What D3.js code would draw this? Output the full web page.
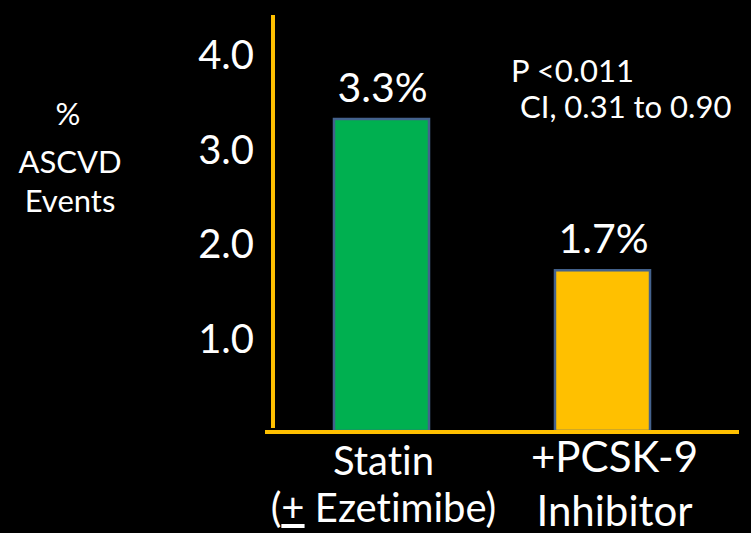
<!DOCTYPE html>
<html>
<head>
<meta charset="utf-8">
<script src="https://cdn.jsdelivr.net/npm/d3@7"></script>
<style>
  html, body { margin: 0; padding: 0; background: #000; }
  svg { display: block; }
  text { font-family: Lato, "Open Sans", sans-serif; fill: #fff; font-variant-ligatures: none; font-feature-settings: "liga" 0, "clig" 0; }
</style>
</head>
<body>
<svg id="chart" width="751" height="533"></svg>
<script>
// Share of patients with an ASCVD event, by treatment arm
const groups = ["Statin", "+PCSK-9"];
const eventRates = [3.3, 1.7];
const valueLabels = ["3.3%", "1.7%"];
const groupLabelLines = [["Statin", "(+ Ezetimibe)"], ["+PCSK-9", "Inhibitor"]];
const yTicks = [1.0, 2.0, 3.0, 4.0];
const yTitleLines = ["%", "ASCVD", "Events"];
const statLines = ["P <0.011", "CI, 0.31 to 0.90"];

const barColors = ["#00B050", "#FFC000"];
const axisColor = "#FFC000";

const svg = d3.select("#chart");
svg.append("rect").attr("width", 751).attr("height", 533).attr("fill", "#000");

const y = d3.scaleLinear().domain([0, 4.4]).range([431, 15]);
const x = d3.scaleBand().domain(groups).range([271, 713])
  .paddingInner(0.57).paddingOuter(0.285);

// Bars
svg.append("g").selectAll("rect")
  .data(groups)
  .join("rect")
  .attr("x", d => x(d))
  .attr("y", (d, i) => y(eventRates[i]))
  .attr("width", x.bandwidth())
  .attr("height", (d, i) => y(0) - y(eventRates[i]))
  .attr("fill", (d, i) => barColors[i])
  .attr("stroke", "#44628D")
  .attr("stroke-width", 2.5);

// Value labels above the bars
svg.append("g").selectAll("text")
  .data(groups)
  .join("text")
  .attr("x", d => x(d) + x.bandwidth() / 2 + 1)
  .attr("y", (d, i) => y(eventRates[i]) - 17)
  .attr("text-anchor", "middle")
  .style("font-size", "41px")
  .text((d, i) => valueLabels[i]);

// Y axis tick labels
const yAxis = d3.axisLeft(y).tickValues(yTicks).tickFormat(d3.format(".1f")).tickSize(0).tickPadding(0);
const gy = svg.append("g").attr("transform", "translate(254,0)").call(yAxis);
gy.select(".domain").remove();
gy.selectAll("text")
  .attr("fill", "#fff")
  .attr("dy", "0.4em")
  .style("font-family", "Lato, 'Open Sans', sans-serif")
  .style("font-size", "40px");

// Axis lines
svg.append("line")
  .attr("x1", 273).attr("x2", 273)
  .attr("y1", y(4.4)).attr("y2", y(0) - 3)
  .attr("stroke", axisColor).attr("stroke-width", 4);
svg.append("line")
  .attr("x1", 265).attr("x2", 739)
  .attr("y1", y(0) + 1).attr("y2", y(0) + 1)
  .attr("stroke", axisColor).attr("stroke-width", 4);

// Category labels
const labelLayout = [
  { dx: 2, size: 40, baselines: [475, 522] },
  { dx: 12, size: 42, baselines: [472, 526] }
];
groups.forEach((g, i) => {
  const cx = x(g) + x.bandwidth() / 2 + labelLayout[i].dx;
  groupLabelLines[i].forEach((line, j) => {
    const t = svg.append("text")
      .attr("x", cx)
      .attr("y", labelLayout[i].baselines[j])
      .attr("text-anchor", "middle")
      .style("font-size", labelLayout[i].size + "px");
    if (line.startsWith("(+")) {
      // "+" is underlined to read as plus-or-minus
      t.append("tspan").text("(");
      t.append("tspan").style("text-decoration", "underline").text("+");
      t.append("tspan").text(line.slice(2));
    } else {
      t.text(line);
    }
  });
});

// Y axis title
const titleLayout = [{ cx: 68, y: 125 }, { cx: 70, y: 173 }, { cx: 70, y: 212 }];
svg.append("g").selectAll("text")
  .data(yTitleLines)
  .join("text")
  .attr("x", (d, i) => titleLayout[i].cx)
  .attr("y", (d, i) => titleLayout[i].y)
  .attr("text-anchor", "middle")
  .style("font-size", "31px")
  .text(d => d);

// Statistics note
const statLayout = [{ x: 511, y: 82 }, { x: 520, y: 118 }];
svg.append("g").selectAll("text")
  .data(statLines)
  .join("text")
  .attr("x", (d, i) => statLayout[i].x)
  .attr("y", (d, i) => statLayout[i].y)
  .style("font-size", "31px")
  .text(d => d);
</script>
</body>
</html>
